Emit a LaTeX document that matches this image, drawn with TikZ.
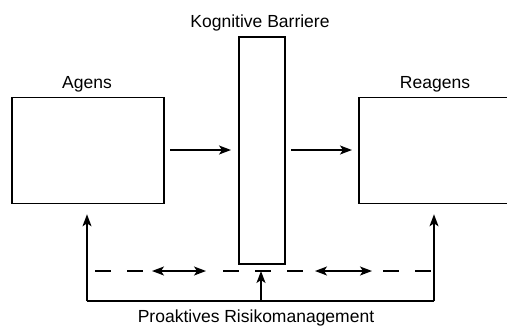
\documentclass[tikz,border=0pt]{standalone}
\usepackage{fontspec}
\setmainfont{Liberation Sans}
\usetikzlibrary{arrows.meta}
\begin{document}
\begin{tikzpicture}[x=1pt,y=-1pt,
  box/.style={draw, line width=1.8pt, inner sep=0pt, anchor=north west},
  lbl/.style={font=\fontsize{17.5}{20}\selectfont, anchor=base, inner sep=0pt},
  conn/.style={line width=1.5pt, -{Stealth[length=12pt,width=9pt,inset=3pt]}},
  dconn/.style={line width=1.5pt, {Stealth[length=12pt,width=9pt,inset=3pt]}-{Stealth[length=12pt,width=9pt,inset=3pt]}},
  dsh/.style={line width=1.5pt, dash pattern=on 16pt off 16pt}]
\useasboundingbox (0,0) rectangle (507,325);
% boxes
\node[box, minimum width=152pt, minimum height=106pt] (agens) at (11,96.5) {};
\node[box, minimum width=152pt, minimum height=106pt] (reagens) at (358,96.5) {};
\node[box, minimum width=46pt, minimum height=227pt] (barrier) at (238,36) {};
% labels
\node[lbl] (lagens) at (87,88) {Agens};
\node[lbl] (lreagens) at (435,88) {Reagens};
\node[lbl] (lbarrier) at (260,27) {Kognitive Barriere};
\node[lbl] (lrisk) at (256,322) {Proaktives Risikomanagement};
% horizontal arrows
\coordinate (a1) at (170,150);
\coordinate (a2) at (231,150);
\coordinate (b1) at (291,150);
\coordinate (b2) at (352,150);
\draw[conn] (a1) -- (a2);
\draw[conn] (b1) -- (b2);
% dashed line
\coordinate (d1) at (95,271);
\coordinate (d2) at (144,271);
\coordinate (e1) at (152,271);
\coordinate (e2) at (206,271);
\coordinate (d3) at (223,271);
\coordinate (d4) at (303,271);
\coordinate (f1) at (315,271);
\coordinate (f2) at (372,271);
\coordinate (d5) at (383,271);
\coordinate (d6) at (431,271);
\draw[dsh] (d1) -- (d2);
\draw[dsh] (d3) -- (d4);
\draw[dsh] (d5) -- (d6);
\draw[dconn] (e1) -- (e2);
\draw[dconn] (f1) -- (f2);
% feedback lines
\coordinate (bl) at (87,301);
\coordinate (br) at (434,301);
\coordinate (bm) at (261,301);
\coordinate (mt) at (261,271);
\draw[conn] (bm) -- (mt);
\draw[line width=1.5pt] (br) -- (bl);
\draw[conn] (bl) -- ([yshift=-10pt]agens.south -| bl);
\draw[conn] (br) -- ([yshift=-10pt]reagens.south -| br);
\end{tikzpicture}
\end{document}
